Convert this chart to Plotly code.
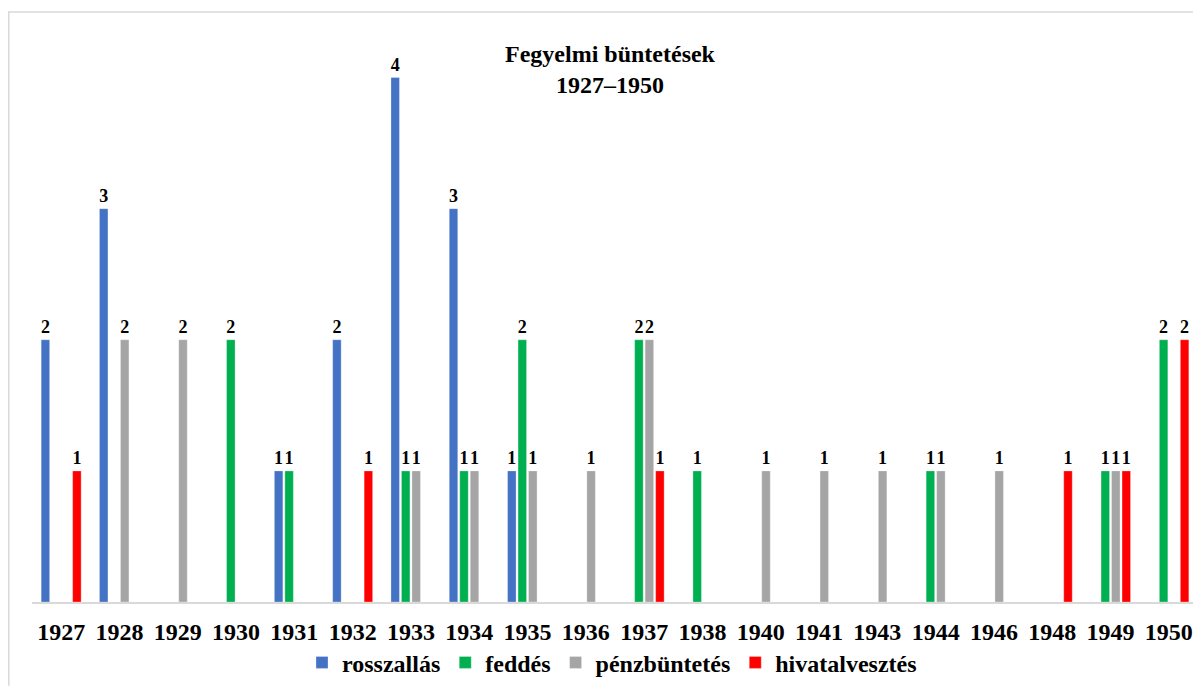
import plotly.graph_objects as go

years = ["1927", "1928", "1929", "1930", "1931", "1932", "1933", "1934", "1935", "1936",
         "1937", "1938", "1940", "1941", "1943", "1944", "1946", "1948", "1949", "1950"]

rosszallas = [2, 3, None, None, 1, 2, 4, 3, 1, None, None, None, None, None, None, None, None, None, None, None]
feddes = [None, None, None, 2, 1, None, 1, 1, 2, None, 2, 1, None, None, None, 1, None, None, 1, 2]
penzbuntetes = [None, 2, 2, None, None, None, 1, 1, 1, 1, 2, None, 1, 1, 1, 1, 1, None, 1, None]
hivatalvesztes = [1, None, None, None, None, 1, None, None, None, None, 1, None, None, None, None, None, None, 1, 1, 2]

series_names = ["rosszallás", "feddés", "pénzbüntetés", "hivatalvesztés"]
series_values = [rosszallas, feddes, penzbuntetes, hivatalvesztes]
colors = ["#4472C4", "#00B050", "#A5A5A5", "#FF0000"]

FONT = "Liberation Serif, Times New Roman, serif"

fig = go.Figure()
for name, vals, col in zip(series_names, series_values, colors):
    fig.add_trace(go.Bar(
        x=years, y=vals, name=name,
        marker=dict(color=col, line=dict(color="rgba(255,255,255,0.6)", width=0.5)),
        text=["" if v is None else str(v) for v in vals],
        textposition="outside",
        constraintext="none",
        textfont=dict(family=FONT, size=18, color="black", weight="bold"),
        cliponaxis=False,
        hoverinfo="skip",
    ))

# The page body has an 8px margin, so the figure starts at screen (8, 8).
OFF = 8
W, H = 1201 - OFF, 688 - OFF
# plot area in screen coords: left 32, right 1198, top 12, bottom 604
L = 32 - OFF
T = 12 - OFF
R = W - (1198 - OFF)
B = H - (604 - OFF)
pw = W - L - R
ph = H - T - B

def px(xs):
    return (xs - OFF - L) / pw

def py(ys):
    return (H - B - (ys - OFF)) / ph

fig.update_layout(
    width=W, height=H,
    margin=dict(l=L, r=R, t=T, b=B),
    paper_bgcolor="white", plot_bgcolor="white",
    barmode="group", bargap=0.28, bargroupgap=0.19,
    uniformtext=dict(mode=False),
    xaxis=dict(
        type="category", showline=True, linecolor="#d9d9d9", linewidth=1.5,
        showgrid=False, ticks="", zeroline=False, ticklabelstandoff=7,
        tickfont=dict(family=FONT, size=24, color="black", weight="bold"),
    ),
    yaxis=dict(visible=False, range=[0, 4.5], showgrid=False, zeroline=False),
    legend=dict(
        orientation="h", x=px(612), xanchor="center", y=py(665), yanchor="middle",
        font=dict(family=FONT, size=24, color="black", weight="bold"),
        itemwidth=30, traceorder="normal", bgcolor="rgba(0,0,0,0)",
    ),
    showlegend=True,
    annotations=[
        dict(text="Fegyelmi büntetések<br>1927–1950", xref="paper", yref="paper",
             x=px(610), y=py(69.5), xanchor="center", yanchor="middle",
             showarrow=False,
             font=dict(family=FONT, size=24, color="black", weight="bold")),
    ],
    shapes=[
        dict(type="line", xref="paper", yref="paper",
             x0=px(8), x1=px(1201), y0=py(12), y1=py(12),
             line=dict(color="#d9d9d9", width=1.5)),
        dict(type="line", xref="paper", yref="paper",
             x0=px(8.8), x1=px(8.8), y0=py(12), y1=py(688),
             line=dict(color="#d9d9d9", width=1.5)),
    ],
)

fig.write_html("out.html")
